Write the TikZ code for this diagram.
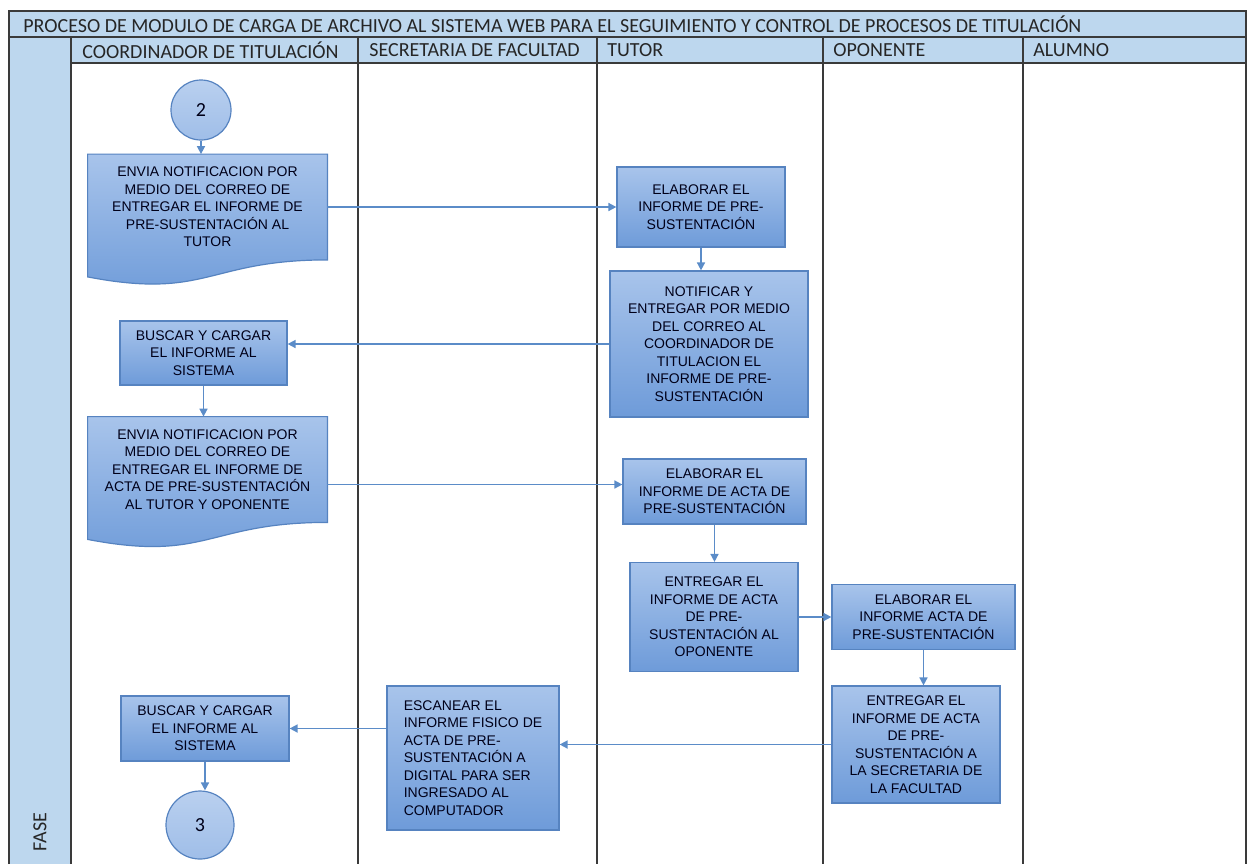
\documentclass[tikz,border=0pt]{standalone}
\usepackage{fontspec}
\setmainfont{Liberation Sans}
\newfontfamily\hdrfont{Carlito}
\usetikzlibrary{arrows.meta, backgrounds, calc}

\definecolor{laneblue}{HTML}{BDD7EE}
\definecolor{boxtop}{HTML}{A8C4EB}
\definecolor{boxbot}{HTML}{6E9BD9}
\definecolor{boxline}{HTML}{5683C0}
\definecolor{flowblue}{HTML}{5B8CC8}
\definecolor{frameline}{HTML}{3A3A3A}

\begin{document}
\begin{tikzpicture}[x=0.5pt, y=-0.5pt,
  every node/.style={inner sep=2pt},
  proc/.style={rectangle, draw=boxline, line width=0.6pt, top color=boxtop, bottom color=boxbot, align=center, font=\fontsize{7}{8.75}\selectfont, text=black!90!blue},
  docbox/.style={rectangle, align=center, font=\fontsize{7}{8.75}\selectfont, text=black!90!blue, minimum width=119.5pt, minimum height=52.5pt},
  docshape/.style={draw=boxline, line width=0.6pt, top color=boxtop, bottom color=boxbot},
  term/.style={circle, draw=boxline, line width=0.6pt, top color=boxtop!80!white, bottom color=boxtop!85!boxbot, font=\hdrfont\fontsize{10}{12}\selectfont, text=black!90!blue},
  hdr/.style={anchor=west, font=\hdrfont\fontsize{10}{12}\selectfont, text=black!85},
  lane/.style={draw=frameline, line width=1pt},
  flow/.style={->, >={Triangle[length=4pt, width=4pt]}, draw=flowblue, line width=0.8pt}]

\useasboundingbox (0,0) rectangle (1253,864);

% marco de carriles
\fill[laneblue] (9,11) rectangle (1246,63);
\fill[laneblue] (9,63) rectangle (71,864);
\draw[lane] (9,864) -- (9,11) -- (1246,11) -- (1246,864);
\draw[lane] (9,37) -- (1246,37);
\draw[lane] (71,63) -- (1246,63);
\foreach \x in {71,358,597,823,1023}
  \draw[lane] (\x,37) -- (\x,864);

\node[hdr] (titulo) at (19,24) {PROCESO DE MODULO DE CARGA DE ARCHIVO AL SISTEMA WEB PARA EL SEGUIMIENTO Y CONTROL DE PROCESOS DE TITULACIÓN};
\node[hdr] (coord) at (78,50) {COORDINADOR DE TITULACIÓN};
\node[hdr] (secre) at (365,50) {SECRETARIA DE FACULTAD};
\node[hdr] (tutor) at (603,50) {TUTOR};
\node[hdr] (opone) at (829,50) {OPONENTE};
\node[hdr] (alumn) at (1029,50) {ALUMNO};
\node[hdr, rotate=90] (fase) at (40,856) {FASE};

% actividades
\node[term, minimum size=30pt] (c2) at (201,110) {2};
\node[docbox] (envia1) at (207.5,207) {ENVIA NOTIFICACION POR\\MEDIO DEL CORREO DE\\ENTREGAR EL INFORME DE\\PRE-SUSTENTACIÓN AL\\TUTOR};
\node[proc, minimum width=84pt, minimum height=40pt] (elab1) at (701,207) {ELABORAR EL\\INFORME DE PRE-\\SUSTENTACIÓN};
\node[proc, minimum width=99pt, minimum height=73pt] (notif) at (709,344) {NOTIFICAR Y\\ENTREGAR POR MEDIO\\DEL CORREO AL\\COORDINADOR DE\\TITULACION EL\\INFORME DE PRE-\\SUSTENTACIÓN};
\node[proc, minimum width=83.5pt, minimum height=32pt] (busca1) at (203.5,353) {BUSCAR Y CARGAR\\EL INFORME AL\\SISTEMA};
\node[docbox] (envia2) at (207.5,469.5) {ENVIA NOTIFICACION POR\\MEDIO DEL CORREO DE\\ENTREGAR EL INFORME DE\\ACTA DE PRE-SUSTENTACIÓN\\AL TUTOR Y OPONENTE};
\node[proc, minimum width=91.5pt, minimum height=32.5pt] (elab2) at (714.5,491.5) {ELABORAR EL\\INFORME DE ACTA DE\\PRE-SUSTENTACIÓN};
\node[proc, minimum width=84pt, minimum height=54.5pt] (entr1) at (714,617) {ENTREGAR EL\\INFORME DE ACTA\\DE PRE-\\SUSTENTACIÓN AL\\OPONENTE};
\node[proc, minimum width=91.5pt, minimum height=32.5pt] (elab3) at (923.5,617) {ELABORAR EL\\INFORME ACTA DE\\PRE-SUSTENTACIÓN};
\node[proc, minimum width=84pt, minimum height=58.5pt] (entr2) at (916,744.5) {ENTREGAR EL\\INFORME DE ACTA\\DE PRE-\\SUSTENTACIÓN A\\LA SECRETARIA DE\\LA FACULTAD};
\node[proc, align=left, minimum width=86pt, minimum height=72pt] (escan) at (473,758) {ESCANEAR EL\\INFORME FISICO DE\\ACTA DE PRE-\\SUSTENTACIÓN A\\DIGITAL PARA SER\\INGRESADO AL\\COMPUTADOR};
\node[proc, minimum width=84pt, minimum height=32.5pt] (busca2) at (205,728.5) {BUSCAR Y CARGAR\\EL INFORME AL\\SISTEMA};
\node[term, minimum size=34pt] (c3) at (200,825) {3};

% documentos con borde ondulado
\begin{scope}[on background layer]
  \foreach \d in {envia1,envia2}
    \draw[docshape] (\d.north west) -- (\d.north east) -- (\d.south east)
      .. controls (\d.south) and ($(\d.south)+(0,40)$) .. ($(\d.south west)+(0,17)$) -- cycle;
\end{scope}

% flujo
\draw[flow] (c2) -- (c2 |- envia1.north);
\draw[flow] (envia1) -- (elab1);
\draw[flow] (elab1) -- (elab1 |- notif.north);
\draw[flow] (notif.west) -- (notif.west -| busca1.east);
\draw[flow] (busca1) -- (busca1 |- envia2.north);
\draw[flow] ([yshift=-7.5pt]envia2.east) -- ([yshift=-7.5pt]envia2.east -| elab2.west);
\draw[flow] (elab2) -- (elab2 |- entr1.north);
\draw[flow] (entr1) -- (elab3);
\draw[flow] (elab3) -- (elab3 |- entr2.north);
\draw[flow] (entr2.west) -- (entr2.west -| escan.east);
\draw[flow] (escan.west |- busca2) -- (busca2);
\draw[flow] (busca2) -- (busca2 |- c3.north);
\end{tikzpicture}
\end{document}
